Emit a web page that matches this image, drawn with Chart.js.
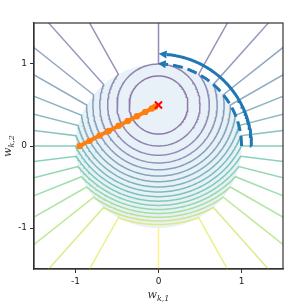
<!DOCTYPE html>
<html>
<head>
<meta charset="utf-8">
<script src="https://cdn.jsdelivr.net/npm/chart.js@4.4.1/dist/chart.umd.min.js"></script>
<style>
  html, body { margin: 0; padding: 0; background: #fff; }
  #wrap { width: 299px; height: 305px; }
</style>
</head>
<body>
<div id="wrap"><canvas id="myChart" width="299" height="305"></canvas></div>
<script>
// contour levels of the loss (squared distance to the optimum)
const levels = [0.125, 0.25, 0.375, 0.5, 0.625, 0.75, 0.875, 1.0, 1.125,
                1.25, 1.375, 1.5, 1.625, 1.75, 1.875, 2.0, 2.125, 2.25]
const optimum = [0, 0.5]
const ballRadius = 1
const xTicks = [-1, 0, 1]
const yTicks = [-1, 0, 1]
// iterates of the orange path
const pathX = [-0.95, -0.83, -0.71, -0.6, -0.48, -0.37, -0.26, -0.16, -0.08, -0.04]
const pathY = [0.0, 0.063, 0.127, 0.184, 0.247, 0.305, 0.363, 0.416, 0.458, 0.479]
// blue arcs (radius, start angle, end angle in degrees)
const solidArc = [1.12, 0, 85]
const dashedArc = [1.0, 0, 85]

const viridis = [
    [68, 1, 84], [72, 36, 117], [65, 68, 135], [53, 95, 141], [42, 120, 142],
    [33, 145, 140], [34, 168, 132], [68, 191, 112], [122, 209, 81], [189, 223, 38], [253, 231, 37]
]
function cmap(t, alpha) {
    t = Math.max(0, Math.min(1, t))
    const k = Math.min(9, Math.floor(t * 10))
    const f = t * 10 - k
    const a = viridis[k], b = viridis[k + 1]
    const c = a.map((v, i) => Math.round(v + (b[i] - v) * f))
    return `rgba(${c[0]},${c[1]},${c[2]},${alpha})`
}

// contour = circle arc around the optimum inside the ball, radial rays outside
function contour(f) {
    const cx = optimum[0], cy = optimum[1]
    const r = Math.sqrt(f)
    const pts = []
    const N = 160
    if (f <= (ballRadius - cy) * (ballRadius - cy) + 1e-9) {
        const full = Math.abs(r - (ballRadius - cy)) < 1e-9
        if (full) pts.push({x: 0, y: 3})
        for (let i = 0; i <= N; i++) {
            const th = Math.PI / 2 + 2 * Math.PI * i / N
            pts.push({x: cx + r * Math.cos(th), y: cy + r * Math.sin(th)})
        }
        return pts
    }
    // where the circle meets the ball boundary
    const yp = (ballRadius * ballRadius + cy * cy - f) / (2 * cy)
    const xp = Math.sqrt(Math.max(0, ballRadius * ballRadius - yp * yp))
    const thR = Math.atan2(yp - cy, xp - cx)
    const thL = Math.PI - thR - 2 * Math.PI
    pts.push({x: xp * 3, y: yp * 3})
    for (let i = 0; i <= N; i++) {
        const th = thR + (thL - thR) * i / N
        pts.push({x: cx + r * Math.cos(th), y: cy + r * Math.sin(th)})
    }
    pts.push({x: -xp * 3, y: yp * 3})
    return pts
}

function arcPoints(arc) {
    const pts = []
    for (let d = arc[1]; d <= arc[2]; d += 1) {
        const th = d * Math.PI / 180
        pts.push({x: arc[0] * Math.cos(th), y: arc[0] * Math.sin(th)})
    }
    return pts
}

const vmax = levels[levels.length - 1]
const datasets = []

const disk = []
for (let i = 0; i <= 240; i++) {
    const th = 2 * Math.PI * i / 240
    disk.push({x: ballRadius * Math.cos(th), y: ballRadius * Math.sin(th)})
}
datasets.push({
    data: disk, showLine: true, pointRadius: 0, borderWidth: 0,
    borderColor: "rgba(0,0,0,0)", backgroundColor: "rgba(31,119,180,0.1)",
    fill: "shape", order: 100
})

levels.forEach((f) => {
    datasets.push({
        data: contour(f), showLine: true, pointRadius: 0, borderWidth: 1.5,
        borderColor: cmap(f / vmax, 0.55), fill: false, order: 50
    })
})

datasets.push({
    data: pathX.map((x, i) => ({x, y: pathY[i]})), showLine: true,
    borderColor: "#ff7f0e", backgroundColor: "#ff7f0e", borderWidth: 4,
    pointRadius: 3.2, pointBorderWidth: 0, order: 10
})
datasets.push({
    data: [{x: optimum[0], y: optimum[1]}], pointStyle: "crossRot",
    pointRadius: 5, borderColor: "#ff0000", borderWidth: 2, order: 5
})
datasets.push({
    data: arcPoints(solidArc), showLine: true, pointRadius: 0, borderWidth: 3,
    borderColor: "#1f77b4", arrow: true, order: 1
})
datasets.push({
    data: arcPoints(dashedArc), showLine: true, pointRadius: 0, borderWidth: 3,
    borderColor: "#1f77b4", borderDash: [10, 5], arrow: true, order: 1
})

const arrowHeads = {
    id: "arrowHeads",
    afterDatasetsDraw(chart) {
        const ctx = chart.ctx
        chart.data.datasets.forEach((ds, i) => {
            if (!ds.arrow) return
            const pts = chart.getDatasetMeta(i).data
            const a = pts[pts.length - 2], b = pts[pts.length - 1]
            const dx = b.x - a.x, dy = b.y - a.y
            const len = Math.hypot(dx, dy)
            const ux = dx / len, uy = dy / len
            const L = 8, W = 4
            ctx.save()
            ctx.fillStyle = ds.borderColor
            ctx.beginPath()
            ctx.moveTo(b.x + ux * L, b.y + uy * L)
            ctx.lineTo(b.x - uy * W, b.y + ux * W)
            ctx.lineTo(b.x + uy * W, b.y - ux * W)
            ctx.closePath()
            ctx.fill()
            ctx.restore()
        })
    }
}

function drawLabel(ctx, x, y, sub) {
    ctx.font = "italic 11px 'DejaVu Serif'"
    const w1 = ctx.measureText("w").width
    ctx.font = "italic 8px 'DejaVu Serif'"
    const w2 = ctx.measureText(sub).width
    const left = x - (w1 + w2) / 2
    ctx.textBaseline = "alphabetic"
    ctx.textAlign = "left"
    ctx.font = "italic 11px 'DejaVu Serif'"
    ctx.fillText("w", left, y)
    ctx.font = "italic 8px 'DejaVu Serif'"
    ctx.fillText(sub, left + w1, y + 2.5)
}

const frameAndLabels = {
    id: "frameAndLabels",
    afterDraw(chart) {
        const ctx = chart.ctx
        const a = chart.chartArea
        ctx.save()
        ctx.strokeStyle = "#333"
        ctx.lineWidth = 1.2
        ctx.strokeRect(a.left, a.top, a.right - a.left, a.bottom - a.top)
        ctx.fillStyle = "#333"
        drawLabel(ctx, (a.left + a.right) / 2, 298, "k,1")
        ctx.translate(11, (a.top + a.bottom) / 2)
        ctx.rotate(-Math.PI / 2)
        drawLabel(ctx, 0, 0, "k,2")
        ctx.restore()
    }
}

const axisCommon = {
    type: "linear", min: -1.5, max: 1.5,
    grid: {drawOnChartArea: false, drawTicks: true, tickLength: 4, tickColor: "#333", tickWidth: 1},
    border: {display: true, color: "#333", width: 1.2},
    ticks: {font: {family: "DejaVu Sans", size: 9}, color: "#222", padding: 3}
}

const config = {
    type: "scatter",
    data: {datasets},
    options: {
        responsive: false,
        animation: false,
        devicePixelRatio: 1,
        layout: {padding: {top: 23, right: 16, left: 0, bottom: 0}},
        plugins: {legend: {display: false}, tooltip: {enabled: false}},
        elements: {line: {tension: 0}},
        scales: {
            x: Object.assign({}, axisCommon, {
                position: "bottom",
                afterBuildTicks: (s) => { s.ticks = xTicks.map((v) => ({value: v})) },
                afterFit: (s) => { s.height = 36 }
            }),
            y: Object.assign({}, axisCommon, {
                position: "left",
                afterBuildTicks: (s) => { s.ticks = yTicks.map((v) => ({value: v})) },
                afterFit: (s) => { s.width = 34 }
            })
        }
    },
    plugins: [arrowHeads, frameAndLabels]
}

const myChart = new Chart(document.getElementById("myChart"), config)
</script>
</body>
</html>
